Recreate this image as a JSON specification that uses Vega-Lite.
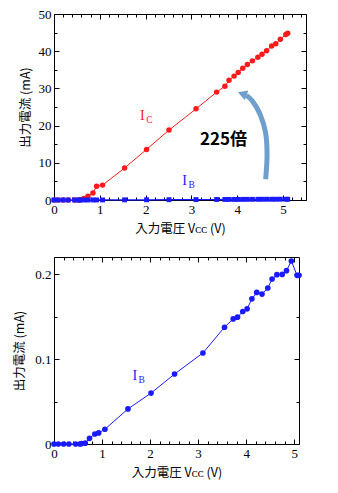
{
  "$schema": "https://vega.github.io/schema/vega-lite/v6.json",
  "background": "white",
  "padding": {"left": 13, "top": 8, "right": 5, "bottom": 5},
  "spacing": 21,
  "datasets": {
    "d": [
      {"V": 0, "IC": 0, "IB": 0},
      {"V": 0.09, "IC": 0, "IB": 0},
      {"V": 0.2, "IC": 0, "IB": 0},
      {"V": 0.31, "IC": 0, "IB": 0},
      {"V": 0.45, "IC": 0, "IB": 0},
      {"V": 0.54, "IC": 0, "IB": 0},
      {"V": 0.57, "IC": 0.1, "IB": 0.0005},
      {"V": 0.65, "IC": 0.4, "IB": 0.001},
      {"V": 0.74, "IC": 1.0, "IB": 0.0067},
      {"V": 0.85, "IC": 1.9, "IB": 0.0118},
      {"V": 0.93, "IC": 3.7, "IB": 0.013},
      {"V": 1.06, "IC": 4.0, "IB": 0.0174},
      {"V": 1.54, "IC": 8.6, "IB": 0.0413},
      {"V": 2.02, "IC": 13.6, "IB": 0.0599},
      {"V": 2.51, "IC": 18.8, "IB": 0.0823},
      {"V": 3.10, "IC": 24.5, "IB": 0.1071},
      {"V": 3.55, "IC": 29.0, "IB": 0.1374},
      {"V": 3.73, "IC": 30.6, "IB": 0.1472},
      {"V": 3.82, "IC": 32.2, "IB": 0.1492},
      {"V": 3.93, "IC": 33.3, "IB": 0.1559},
      {"V": 4.02, "IC": 34.3, "IB": 0.159},
      {"V": 4.12, "IC": 35.4, "IB": 0.1708},
      {"V": 4.22, "IC": 36.4, "IB": 0.1783},
      {"V": 4.33, "IC": 37.4, "IB": 0.1764},
      {"V": 4.45, "IC": 38.4, "IB": 0.1835},
      {"V": 4.54, "IC": 39.2, "IB": 0.1941},
      {"V": 4.64, "IC": 40.1, "IB": 0.1992},
      {"V": 4.75, "IC": 41.4, "IB": 0.1995},
      {"V": 4.84, "IC": 42.0, "IB": 0.2039},
      {"V": 4.94, "IC": 43.2, "IB": 0.2153},
      {"V": 5.06, "IC": 44.5, "IB": 0.1984},
      {"V": 5.10, "IC": 44.8, "IB": 0.1984}
    ],
    "arrow": [
      {"i": 1, "x": 4.62, "y": 5.6},
      {"i": 2, "x": 4.65, "y": 12},
      {"i": 3, "x": 4.62, "y": 18},
      {"i": 4, "x": 4.5, "y": 23},
      {"i": 5, "x": 4.33, "y": 26.6},
      {"i": 6, "x": 4.2, "y": 28.1}
    ]
  },
  "vconcat": [
    {
      "width": 252,
      "height": 186,
      "resolve": {"axis": {"x": "independent", "y": "independent"}},
      "layer": [
        {
          "data": {"name": "d"},
          "mark": {"type": "line", "color": "#ff1a1a", "strokeWidth": 1},
          "encoding": {
            "x": {"field": "V", "type": "quantitative", "scale": {"domain": [0, 5.5], "nice": false},
              "axis": {"orient": "bottom", "title": "入力電圧  Vᴄᴄ (V)", "values": [0,0.2,0.4,0.6,0.8,1,1.2,1.4,1.6,1.8,2,2.2,2.4,2.6,2.8,3,3.2,3.4,3.6,3.8,4,4.2,4.4,4.6,4.8,5,5.2,5.4],
                "labelExpr": "abs(datum.value - round(datum.value)) < 0.000001 ? format(datum.value, 'd') : ''",
                "tickSize": {"condition": {"test": "abs(datum.value - round(datum.value)) < 0.000001", "value": -5}, "value": -3},
                "labelFont": "Liberation Serif", "labelFontSize": 13,
                "labelPadding": 8, "titlePadding": 6, "labelFlush": false}},
            "y": {"field": "IC", "type": "quantitative", "scale": {"domain": [0, 50], "nice": false},
              "axis": {"orient": "left", "title": "出力電流 (mA)", "values": [0,5,10,15,20,25,30,35,40,45,50],
                "labelExpr": "datum.value % 10 === 0 ? format(datum.value, 'd') : ''",
                "tickSize": {"condition": {"test": "datum.value % 10 === 0", "value": -5}, "value": -3},
                "labelFont": "Liberation Serif", "labelFontSize": 13,
                "labelPadding": 8, "titlePadding": 6, "labelFlush": false}}
          }
        },
        {
          "data": {"name": "d"},
          "mark": {"type": "circle", "color": "#ff1a1a", "size": 30, "opacity": 1},
          "encoding": {
            "x": {"field": "V", "type": "quantitative", "scale": {"domain": [0, 5.5], "nice": false},
              "axis": {"orient": "top", "title": null, "labels": false, "values": [0,0.2,0.4,0.6,0.8,1,1.2,1.4,1.6,1.8,2,2.2,2.4,2.6,2.8,3,3.2,3.4,3.6,3.8,4,4.2,4.4,4.6,4.8,5,5.2,5.4],
                "tickSize": {"condition": {"test": "abs(datum.value - round(datum.value)) < 0.000001", "value": -5}, "value": -3}}},
            "y": {"field": "IC", "type": "quantitative", "scale": {"domain": [0, 50], "nice": false},
              "axis": {"orient": "right", "title": null, "labels": false, "values": [0,5,10,15,20,25,30,35,40,45,50],
                "tickSize": {"condition": {"test": "datum.value % 10 === 0", "value": -5}, "value": -3}}}
          }
        },
        {
          "data": {"name": "d"},
          "mark": {"type": "line", "color": "#1a1aff", "strokeWidth": 1.2},
          "encoding": {
            "x": {"field": "V", "type": "quantitative", "scale": {"domain": [0, 5.5], "nice": false}, "axis": null},
            "y": {"field": "IB", "type": "quantitative", "scale": {"domain": [0, 50], "nice": false}, "axis": null}
          }
        },
        {
          "data": {"name": "d"},
          "mark": {"type": "square", "color": "#1a1aff", "size": 24, "opacity": 1},
          "encoding": {
            "x": {"field": "V", "type": "quantitative", "scale": {"domain": [0, 5.5], "nice": false}, "axis": null},
            "y": {"field": "IB", "type": "quantitative", "scale": {"domain": [0, 50], "nice": false}, "axis": null}
          }
        },
        {
          "data": {"values": [{"x": 1.93, "y": 22.6, "t": "I", "c": "red"}, {"x": 2.85, "y": 5.1, "t": "I", "c": "blue"}]},
          "mark": {"type": "text", "font": "Liberation Serif", "fontSize": 14, "align": "center", "baseline": "middle"},
          "encoding": {
            "x": {"field": "x", "type": "quantitative", "scale": {"domain": [0, 5.5], "nice": false}, "axis": null},
            "y": {"field": "y", "type": "quantitative", "scale": {"domain": [0, 50], "nice": false}, "axis": null},
            "text": {"field": "t"},
            "color": {"field": "c", "type": "nominal", "scale": {"domain": ["red", "blue"], "range": ["#ff1a1a", "#1a1aff"]}, "legend": null}
          }
        },
        {
          "data": {"values": [{"x": 1.93, "y": 22.6, "t": "C", "c": "red"}, {"x": 2.85, "y": 5.1, "t": "B", "c": "blue"}]},
          "mark": {"type": "text", "font": "Liberation Serif", "fontSize": 9.5, "align": "center", "baseline": "middle", "dx": 7, "dy": 4},
          "encoding": {
            "x": {"field": "x", "type": "quantitative", "scale": {"domain": [0, 5.5], "nice": false}, "axis": null},
            "y": {"field": "y", "type": "quantitative", "scale": {"domain": [0, 50], "nice": false}, "axis": null},
            "text": {"field": "t"},
            "color": {"field": "c", "type": "nominal", "scale": {"domain": ["red", "blue"], "range": ["#ff1a1a", "#1a1aff"]}, "legend": null}
          }
        },
        {
          "data": {"values": [{"x": 3.7, "y": 16.1, "t": "225倍"}]},
          "mark": {"type": "text", "font": "Noto Sans CJK JP", "fontSize": 17, "fontWeight": "bold", "align": "center", "baseline": "middle", "color": "#000"},
          "encoding": {
            "x": {"field": "x", "type": "quantitative", "scale": {"domain": [0, 5.5], "nice": false}, "axis": null},
            "y": {"field": "y", "type": "quantitative", "scale": {"domain": [0, 50], "nice": false}, "axis": null},
            "text": {"field": "t"}
          }
        },
        {
          "data": {"name": "arrow"},
          "mark": {"type": "line", "color": "#6f9fcc", "strokeWidth": 5, "interpolate": "cardinal", "strokeCap": "butt"},
          "encoding": {
            "x": {"field": "x", "type": "quantitative", "scale": {"domain": [0, 5.5], "nice": false}, "axis": null},
            "y": {"field": "y", "type": "quantitative", "scale": {"domain": [0, 50], "nice": false}, "axis": null},
            "order": {"field": "i", "type": "quantitative"}
          }
        },
        {
          "data": {"values": [{"x": 4.14, "y": 28.4}]},
          "mark": {"type": "point", "shape": "triangle", "filled": true, "color": "#6f9fcc", "size": 110, "angle": 290, "opacity": 1},
          "encoding": {
            "x": {"field": "x", "type": "quantitative", "scale": {"domain": [0, 5.5], "nice": false}, "axis": null},
            "y": {"field": "y", "type": "quantitative", "scale": {"domain": [0, 50], "nice": false}, "axis": null}
          }
        }
      ]
    },
    {
      "width": 245,
      "height": 187,
      "resolve": {"axis": {"x": "independent", "y": "independent"}},
      "layer": [
        {
          "data": {"name": "d"},
          "mark": {"type": "line", "color": "#1a1aff", "strokeWidth": 1},
          "encoding": {
            "x": {"field": "V", "type": "quantitative", "scale": {"domain": [0, 5.1], "nice": false},
              "axis": {"orient": "bottom", "title": "入力電圧  Vᴄᴄ (V)", "values": [0,0.2,0.4,0.6,0.8,1,1.2,1.4,1.6,1.8,2,2.2,2.4,2.6,2.8,3,3.2,3.4,3.6,3.8,4,4.2,4.4,4.6,4.8,5],
                "labelExpr": "abs(datum.value - round(datum.value)) < 0.000001 ? format(datum.value, 'd') : ''",
                "tickSize": {"condition": {"test": "abs(datum.value - round(datum.value)) < 0.000001", "value": -5}, "value": -3},
                "labelFont": "Liberation Serif", "labelFontSize": 13,
                "labelPadding": 8, "titlePadding": 6, "labelFlush": false}},
            "y": {"field": "IB", "type": "quantitative", "scale": {"domain": [0, 0.22], "nice": false},
              "axis": {"orient": "left", "title": "出力電流 (mA)", "values": [0,0.05,0.1,0.15,0.2],
                "labelExpr": "abs(datum.value*10 - round(datum.value*10)) < 0.000001 ? (datum.value === 0 ? '0' : format(datum.value, '.1f')) : ''",
                "tickSize": {"condition": {"test": "abs(datum.value*10 - round(datum.value*10)) < 0.000001", "value": -5}, "value": -3},
                "labelFont": "Liberation Serif", "labelFontSize": 13,
                "labelPadding": 8, "titlePadding": 8, "labelFlush": false}}
          }
        },
        {
          "data": {"name": "d"},
          "mark": {"type": "circle", "color": "#1a1aff", "size": 32, "opacity": 1, "clip": false},
          "encoding": {
            "x": {"field": "V", "type": "quantitative", "scale": {"domain": [0, 5.1], "nice": false},
              "axis": {"orient": "top", "title": null, "labels": false, "values": [0,0.2,0.4,0.6,0.8,1,1.2,1.4,1.6,1.8,2,2.2,2.4,2.6,2.8,3,3.2,3.4,3.6,3.8,4,4.2,4.4,4.6,4.8,5],
                "tickSize": {"condition": {"test": "abs(datum.value - round(datum.value)) < 0.000001", "value": -5}, "value": -3}}},
            "y": {"field": "IB", "type": "quantitative", "scale": {"domain": [0, 0.22], "nice": false},
              "axis": {"orient": "right", "title": null, "labels": false, "values": [0,0.05,0.1,0.15,0.2],
                "tickSize": {"condition": {"test": "abs(datum.value*10 - round(datum.value*10)) < 0.000001", "value": -5}, "value": -3}}}
          }
        },
        {
          "data": {"values": [{"x": 1.68, "y": 0.08, "t": "I"}]},
          "mark": {"type": "text", "font": "Liberation Serif", "fontSize": 14, "align": "center", "baseline": "middle", "color": "#1a1aff"},
          "encoding": {
            "x": {"field": "x", "type": "quantitative", "scale": {"domain": [0, 5.1], "nice": false}, "axis": null},
            "y": {"field": "y", "type": "quantitative", "scale": {"domain": [0, 0.22], "nice": false}, "axis": null},
            "text": {"field": "t"}
          }
        },
        {
          "data": {"values": [{"x": 1.68, "y": 0.08, "t": "B"}]},
          "mark": {"type": "text", "font": "Liberation Serif", "fontSize": 9.5, "align": "center", "baseline": "middle", "color": "#1a1aff", "dx": 7, "dy": 4},
          "encoding": {
            "x": {"field": "x", "type": "quantitative", "scale": {"domain": [0, 5.1], "nice": false}, "axis": null},
            "y": {"field": "y", "type": "quantitative", "scale": {"domain": [0, 0.22], "nice": false}, "axis": null},
            "text": {"field": "t"}
          }
        }
      ]
    }
  ],
  "config": {
    "view": {"stroke": null},
    "axis": {
      "grid": false,
      "domainColor": "#000",
      "domainWidth": 1,
      "tickColor": "#000",
      "tickWidth": 1,
      "labelFont": "Liberation Serif",
      "labelFontSize": 13,
      "labelColor": "#000",
      "titleFont": "Noto Sans CJK JP",
      "titleFontSize": 12.5,
      "titleFontWeight": "normal",
      "titleColor": "#000"
    }
  }
}
